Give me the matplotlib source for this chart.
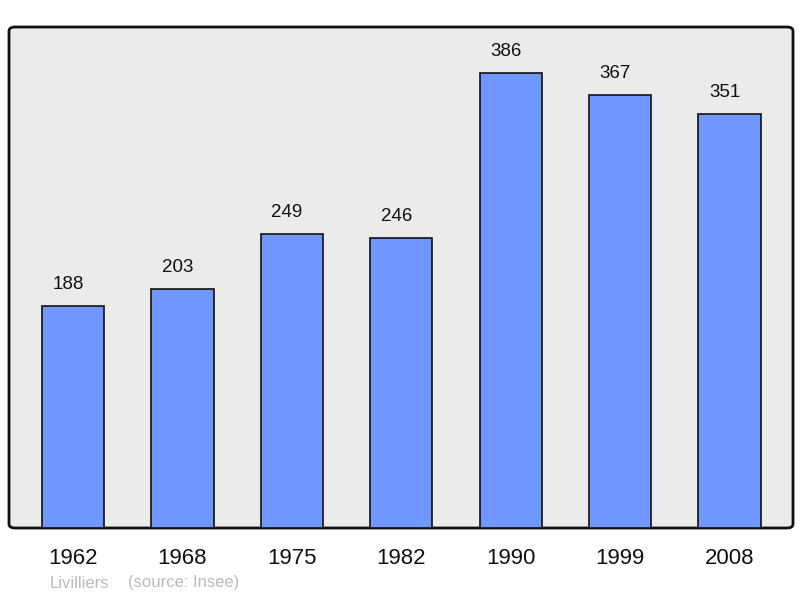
import matplotlib

matplotlib.use("Agg")

import matplotlib.pyplot as plt
from matplotlib.patches import FancyBboxPatch

years = ["1962", "1968", "1975", "1982", "1990", "1999", "2008"]
population = [188, 203, 249, 246, 386, 367, 351]

plt.rcParams["font.family"] = ["Liberation Sans", "DejaVu Sans"]

fig = plt.figure(figsize=(8.0, 5.98), dpi=100)
ax = fig.add_axes([9 / 800, 70 / 598, 784 / 800, 501 / 598])
ax.set_facecolor("none")

frame = FancyBboxPatch((0, 0), 1, 1, boxstyle="round,pad=0,rounding_size=0.008",
                       transform=ax.transAxes, facecolor="#ebebeb", edgecolor="#111111",
                       linewidth=2, zorder=0, clip_on=False)
ax.add_patch(frame)

xs = list(range(len(years)))
ax.bar(xs, population, width=0.57, color="#7096ff", edgecolor="#111111", linewidth=1.2, zorder=2)
for x, value in zip(xs, population):
    ax.annotate(str(value), (x, value), xytext=(-3.5, 9.5), textcoords="offset points",
                ha="center", va="bottom", fontsize=13.5, color="#111111")

ax.set_xlim(-0.585, len(years) - 1 + 0.58)
ax.set_ylim(0, 425)
ax.set_xticks(xs)
ax.set_xticklabels(years, fontsize=16, color="#111111")
ax.tick_params(axis="x", length=0, pad=14.5)
ax.set_yticks([])
for spine in ax.spines.values():
    spine.set_visible(False)

fig.text(79 / 800, 1 - 583 / 598, "Livilliers", ha="center", va="center", fontsize=12, color="#bbbbbb")
fig.text(184 / 800, 1 - 583 / 598, "(source: Insee)", ha="center", va="center", fontsize=12, color="#bbbbbb")

fig.savefig("out.png", dpi=100, facecolor="white")
